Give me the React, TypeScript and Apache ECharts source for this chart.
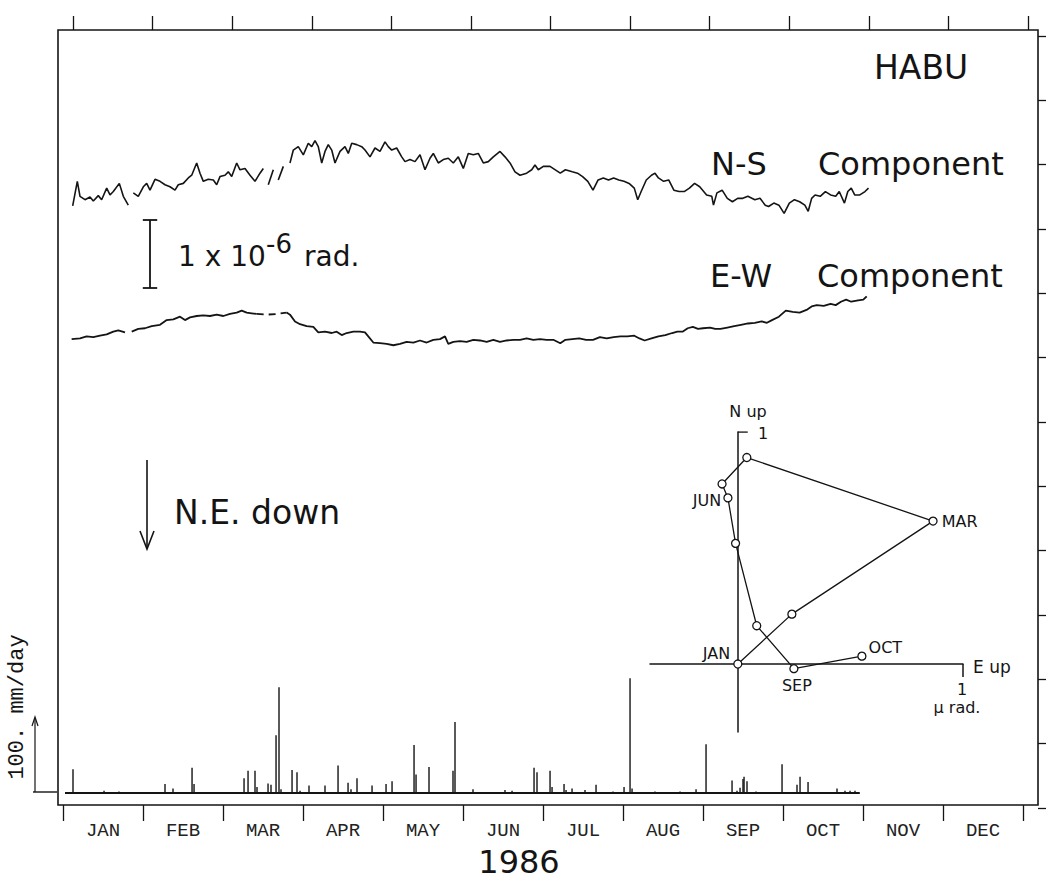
import React, { useEffect, useRef } from "react";
import * as echarts from "echarts";

// ---- categories ----
const months = ["JAN", "FEB", "MAR", "APR", "MAY", "JUN", "JUL", "AUG", "SEP", "OCT", "NOV", "DEC"];

// ---- N-S tilt component (x: month position, y: micro-radian, arbitrary offset) ----
const nsA = [[0.121,8.81],[0.179,9.17],[0.2125,8.95],[0.275,8.90],[0.3375,8.94],[0.379,8.88],[0.441,8.96],[0.483,8.90],[0.546,9.07],[0.5875,8.97],[0.629,9.02],[0.704,9.14],[0.754,8.95],[0.816,8.82]];
const nsB = [[0.879,9.00],[0.941,8.95],[1.004,9.09],[1.046,9.14],[1.0875,9.04],[1.15,9.20],[1.2125,9.17],[1.275,9.12],[1.3375,9.09],[1.40,9.04],[1.441,9.12],[1.504,9.14],[1.566,9.22],[1.609,9.26],[1.671,9.44],[1.7125,9.29],[1.754,9.17],[1.816,9.20],[1.879,9.19],[1.921,9.12],[1.9625,9.24],[2.025,9.26],[2.066,9.31],[2.109,9.24],[2.171,9.44],[2.2125,9.34],[2.275,9.36],[2.3375,9.26],[2.40,9.17],[2.4625,9.29],[2.504,9.36]];
const nsSlash1 = [[2.566,9.12],[2.629,9.34]];
const nsSlash2 = [[2.691,9.19],[2.754,9.39]];
const nsC = [[2.8375,9.44],[2.879,9.63],[2.941,9.68],[3.004,9.56],[3.066,9.73],[3.109,9.68],[3.15,9.77],[3.191,9.68],[3.234,9.44],[3.275,9.61],[3.316,9.71],[3.359,9.63],[3.40,9.44],[3.4625,9.61],[3.525,9.68],[3.566,9.58],[3.609,9.73],[3.671,9.71],[3.734,9.68],[3.775,9.63],[3.8375,9.53],[3.90,9.66],[3.9625,9.61],[4.025,9.75],[4.066,9.68],[4.109,9.63],[4.171,9.66],[4.234,9.53],[4.275,9.46],[4.3375,9.49],[4.40,9.46],[4.4625,9.56],[4.525,9.34],[4.5875,9.51],[4.629,9.58],[4.691,9.44],[4.754,9.49],[4.816,9.51],[4.879,9.44],[4.941,9.53],[5.004,9.36],[5.066,9.58],[5.129,9.56],[5.191,9.58],[5.254,9.44],[5.316,9.46],[5.379,9.53],[5.4625,9.61],[5.525,9.53],[5.5875,9.44],[5.65,9.31],[5.7125,9.26],[5.796,9.29],[5.859,9.34],[5.90,9.41],[5.941,9.34],[6.004,9.39],[6.0875,9.39],
  [6.216,9.29],[6.28,9.34],[6.366,9.31],[6.431,9.29],[6.495,9.24],[6.56,9.17],[6.625,9.04],[6.689,9.19],[6.754,9.22],[6.819,9.19],[6.883,9.22],[6.948,9.19],[7.0125,9.17],[7.076,9.14],[7.141,9.07],[7.184,8.90],[7.227,9.02],[7.291,9.19],[7.356,9.26],[7.40,9.29],[7.443,9.22],[7.508,9.17],[7.571,9.19],[7.636,9.04],[7.701,9.02],[7.765,9.02],[7.83,9.07],[7.895,9.14],[7.959,9.09],[8.045,8.97],[8.11,8.95],[8.131,8.82],[8.174,9.00],[8.239,9.04],[8.304,8.92],[8.368,8.87],[8.433,8.92],[8.498,8.92],[8.561,8.95],[8.648,8.90],[8.7125,8.92],[8.778,8.82],[8.82,8.80],[8.885,8.85],[8.949,8.82],[9.014,8.70],[9.079,8.85],[9.143,8.90],[9.208,8.87],[9.273,8.82],[9.315,8.73],[9.358,8.92],[9.401,8.97],[9.465,8.95],[9.53,9.02],[9.595,8.97],[9.659,8.95],[9.703,9.02],[9.768,8.85],[9.81,9.02],[9.853,9.07],[9.896,8.97],[9.96,8.97],[10.025,9.02],[10.069,9.07]];

// ---- E-W tilt component ----
const ewA = [[0.108,6.85],[0.2125,6.86],[0.296,6.89],[0.379,6.88],[0.4625,6.90],[0.546,6.92],[0.629,6.96],[0.691,6.98],[0.775,6.95]];
const ewB = [[0.859,6.96],[0.941,7.00],[1.025,7.01],[1.109,7.04],[1.2125,7.06],[1.296,7.13],[1.379,7.14],[1.4625,7.18],[1.525,7.13],[1.5875,7.17],[1.671,7.19],[1.754,7.20],[1.8375,7.19],[1.921,7.21],[2.004,7.19],[2.0875,7.22],[2.171,7.24],[2.234,7.27],[2.296,7.24],[2.359,7.23],[2.421,7.22]];
const ewDashed = [[2.421,7.22],[2.546,7.21],[2.671,7.22],[2.796,7.24]];
const ewC = [[2.796,7.24],[2.8375,7.21],[2.90,7.11],[2.9625,7.07],[3.046,7.04],[3.129,7.03],[3.191,6.95],[3.275,6.96],[3.359,6.94],[3.421,6.96],[3.484,6.91],[3.546,6.94],[3.629,6.96],[3.7125,6.96],[3.775,6.95],[3.816,6.89],[3.879,6.80],[3.9625,6.79],[4.046,6.78],[4.129,6.76],[4.2125,6.78],[4.296,6.81],[4.379,6.80],[4.4625,6.83],[4.546,6.80],[4.629,6.84],[4.7125,6.85],[4.775,6.89],[4.816,6.78],[4.879,6.81],[4.9625,6.82],[5.046,6.81],[5.129,6.84],[5.2125,6.83],[5.296,6.81],[5.379,6.84],[5.4625,6.81],[5.546,6.83],[5.629,6.84],[5.7125,6.84],[5.796,6.86],[5.879,6.84],[5.9625,6.85],[6.046,6.84],[6.129,6.84],
  [6.216,6.79],[6.28,6.84],[6.366,6.85],[6.453,6.86],[6.539,6.84],[6.625,6.84],[6.711,6.88],[6.796,6.86],[6.883,6.88],[6.969,6.89],[7.055,6.89],[7.141,6.90],[7.206,6.86],[7.27,6.83],[7.356,6.86],[7.443,6.89],[7.529,6.91],[7.615,6.94],[7.679,6.96],[7.744,6.96],[7.809,7.01],[7.873,7.03],[7.9375,7.00],[8.0,7.01],[8.089,7.02],[8.153,7.00],[8.218,7.00],[8.304,7.02],[8.39,7.04],[8.475,7.06],[8.561,7.08],[8.648,7.09],[8.734,7.11],[8.799,7.09],[8.8625,7.13],[8.949,7.18],[9.035,7.27],[9.121,7.25],[9.208,7.24],[9.294,7.28],[9.358,7.33],[9.4225,7.35],[9.509,7.34],[9.595,7.37],[9.659,7.35],[9.724,7.40],[9.789,7.43],[9.853,7.40],[9.939,7.42],[10.004,7.43],[10.046,7.48]];

// ---- scale bar: 1 x 10^-6 rad ----
const scaleBarX = 1.0875;
const scaleBarHalfWidth = 0.09;
const scaleBarFrom = 7.6;
const scaleBarTo = 8.6;

// ---- daily rainfall (x: month position, mm/day) ----
const rainX = [0.125,0.513,0.7,1.275,1.375,1.613,1.638,2.263,2.313,2.4,2.425,2.563,2.6,2.663,2.7,2.725,2.863,2.925,2.963,3.075,3.275,3.438,3.563,3.6,3.675,3.863,4.038,4.113,4.388,4.413,4.575,4.875,4.9,5.125,5.525,5.613,5.888,5.925,6.088,6.113,6.263,6.288,6.363,6.525,6.663,6.875,7.013,7.088,7.113,7.4,7.713,7.913,8.038,8.363,8.425,8.463,8.5,8.513,8.55,8.663,8.988,9.175,9.213,9.313,9.675,9.775,9.838,9.9];
const rainMm = [32,3,2,12,6,34,12,20,30,30,8,13,11,78,143,5,31,28,3,10,10,37,14,5,20,10,12,16,65,25,35,30,96,5,4,3,34,28,30,8,12,4,6,4,11,2,8,155,6,2,2,5,66,17,3,7,19,22,16,2,39,11,22,15,6,3,3,3];
const rainStart = 0.025;
const rainEnd = 9.96;

// ---- tilt vector (hodograph) inset: E up, N up in micro-radian ----
const hodoE = [0, 0.24, 0.867, 0.04, -0.07, -0.044, -0.01, 0.084, 0.249, 0.551];
const hodoN = [0, 0.215, 0.616, 0.89, 0.776, 0.716, 0.52, 0.165, -0.02, 0.034];
const hodoLabels = ["JAN", "", "MAR", "", "", "JUN", "", "", "SEP", "OCT"];

const INK = "#141414";

function buildOption(): any {
  const labelPos: Record<string, any> = {
    JAN: { position: "left", distance: 3, offset: [0, -11] },
    MAR: { position: "right", distance: 4, offset: [0, 0] },
    JUN: { position: "left", distance: 2, offset: [0, 3] },
    SEP: { position: "bottom", distance: 4, offset: [3, 0] },
    OCT: { position: "right", distance: 2, offset: [0, -9] },
  };
  const hodoData = hodoE.map((e, i) => {
    const name = hodoLabels[i];
    const item: any = { value: [e, hodoN[i]] };
    if (name) {
      item.label = {
        show: true,
        formatter: name,
        color: INK,
        fontSize: 16,
        fontFamily: "DejaVu Sans",
        ...labelPos[name],
      };
    }
    return item;
  });

  const tiltLine = (data: number[][], width = 1.6, type: any = "solid") => ({
    type: "line",
    xAxisIndex: 3,
    yAxisIndex: 2,
    data,
    symbol: "none",
    silent: true,
    lineStyle: { color: INK, width, type },
  });

  const txt = (text: string, x: number, y: number, size: number, extra: any = {}) => ({
    type: "text",
    x,
    y,
    silent: true,
    style: {
      text,
      fill: INK,
      fontSize: size,
      fontFamily: "DejaVu Sans",
      align: "left",
      verticalAlign: "middle",
      ...extra,
    },
  });
  const seg = (x1: number, y1: number, x2: number, y2: number, w = 1.6) => ({
    type: "line",
    silent: true,
    shape: { x1, y1, x2, y2 },
    style: { stroke: INK, lineWidth: w },
  });

  return {
    animation: false,
    backgroundColor: "#ffffff",
    grid: [
      { left: 58, top: 30, width: 980, height: 775, show: true, borderColor: INK, borderWidth: 1.6, backgroundColor: "transparent" },
      { left: 73, top: 30, width: 955, height: 775 },
      { left: 63, top: 29, width: 960, height: 776 },
      { left: 63, top: 571, width: 960, height: 222 },
      { left: 650, top: 432, width: 313, height: 300 },
      { left: 58, top: 36, width: 980, height: 772 },
    ],
    xAxis: [
      { gridIndex: 0, type: "value", show: false, min: 0, max: 1 },
      {
        gridIndex: 1, type: "value", position: "top", min: 0, max: 12, interval: 1,
        axisLine: { show: false, onZero: false }, axisLabel: { show: false }, splitLine: { show: false },
        axisTick: { show: true, length: 14, lineStyle: { color: INK, width: 1.3 } },
      },
      {
        gridIndex: 2, type: "category", position: "bottom", data: months, boundaryGap: true,
        axisLine: { show: false, onZero: false }, splitLine: { show: false },
        axisTick: { show: true, length: 16, alignWithLabel: false, lineStyle: { color: INK, width: 1.3 } },
        axisLabel: { color: "#222", fontSize: 19, fontFamily: "Liberation Mono", margin: 16 },
      },
      { gridIndex: 2, type: "value", position: "top", show: false, min: 0, max: 12 },
      { gridIndex: 3, type: "value", show: false, min: 0, max: 12 },
      {
        gridIndex: 4, type: "value", min: -0.39, max: 1.0,
        axisLine: { show: true, onZero: true, lineStyle: { color: INK, width: 1.5 } },
        axisTick: { show: false }, axisLabel: { show: false }, splitLine: { show: false },
      },
      { gridIndex: 5, type: "value", show: false, min: 0, max: 1 },
    ],
    yAxis: [
      { gridIndex: 0, type: "value", show: false, min: 0, max: 1 },
      { gridIndex: 1, type: "value", show: false, min: 0, max: 1 },
      { gridIndex: 2, type: "value", show: false, min: 0, max: 11.41 },
      { gridIndex: 3, type: "value", show: false, min: 0, max: 300 },
      {
        gridIndex: 4, type: "value", min: -0.293, max: 1.0,
        axisLine: { show: true, onZero: true, lineStyle: { color: INK, width: 1.5 } },
        axisTick: { show: false }, axisLabel: { show: false }, splitLine: { show: false },
      },
      {
        gridIndex: 5, type: "value", position: "right", min: 0, max: 12, interval: 1,
        axisLine: { show: false, onZero: false }, axisLabel: { show: false }, splitLine: { show: false },
        axisTick: { show: true, length: 8, lineStyle: { color: INK, width: 1.3 } },
      },
    ],
    series: [
      tiltLine(nsA),
      tiltLine(nsB),
      tiltLine(nsSlash1),
      tiltLine(nsSlash2),
      tiltLine(nsC),
      tiltLine(ewA, 1.8),
      tiltLine(ewB, 1.8),
      tiltLine(ewDashed, 1.8, [7, 5]),
      tiltLine(ewC, 1.8),
      {
        type: "line",
        xAxisIndex: 3,
        yAxisIndex: 2,
        data: [[scaleBarX, scaleBarFrom], [scaleBarX, scaleBarTo]],
        symbol: "none",
        silent: true,
        lineStyle: { color: INK, width: 1.8 },
        markLine: {
          silent: true,
          symbol: ["none", "none"],
          label: { show: false },
          lineStyle: { color: INK, width: 1.8, type: "solid" },
          data: [
            [{ coord: [scaleBarX - scaleBarHalfWidth, scaleBarFrom] }, { coord: [scaleBarX + scaleBarHalfWidth, scaleBarFrom] }],
            [{ coord: [scaleBarX - scaleBarHalfWidth, scaleBarTo] }, { coord: [scaleBarX + scaleBarHalfWidth, scaleBarTo] }],
          ],
        },
      },
      {
        type: "bar",
        xAxisIndex: 4,
        yAxisIndex: 3,
        data: rainX.map((x, i) => [x, rainMm[i]]),
        barWidth: 1.4,
        silent: true,
        itemStyle: { color: INK },
      },
      {
        type: "line",
        xAxisIndex: 4,
        yAxisIndex: 3,
        data: [[rainStart, 0], [rainEnd, 0]],
        symbol: "none",
        silent: true,
        lineStyle: { color: INK, width: 2.2 },
      },
      {
        type: "line",
        xAxisIndex: 5,
        yAxisIndex: 4,
        data: [[1, 0], [1, -0.056]],
        symbol: "none",
        silent: true,
        lineStyle: { color: INK, width: 1.5 },
      },
      {
        type: "line",
        xAxisIndex: 5,
        yAxisIndex: 4,
        data: [[0, 1], [0.044, 1]],
        symbol: "none",
        silent: true,
        lineStyle: { color: INK, width: 1.5 },
      },
      {
        type: "line",
        xAxisIndex: 5,
        yAxisIndex: 4,
        data: hodoData,
        symbol: "circle",
        symbolSize: 8,
        showAllSymbol: true,
        silent: true,
        z: 5,
        lineStyle: { color: INK, width: 1.3 },
        itemStyle: { color: "#ffffff", borderColor: INK, borderWidth: 1.3 },
      },
    ],
    graphic: [
      txt("HABU", 874, 67, 33),
      txt("N-S", 711, 164, 32),
      txt("Component", 818, 164, 32),
      txt("E-W", 710, 276, 32),
      txt("Component", 817, 276, 32),
      txt("1 x 10", 178, 256, 28),
      txt("-6", 266, 244, 26),
      txt("rad.", 304, 256, 28),
      txt("N.E. down", 174, 512, 33),
      seg(147, 460, 147, 548),
      {
        type: "polyline",
        silent: true,
        shape: { points: [[140, 531], [147, 549], [154, 531]] },
        style: { stroke: INK, lineWidth: 1.6, fill: "none" },
      },
      txt("1986", 519, 862, 32, { align: "center" }),
      {
        type: "text",
        x: 17,
        y: 707,
        rotation: Math.PI / 2,
        silent: true,
        style: {
          text: "100. mm/day",
          fill: INK,
          fontSize: 22,
          fontFamily: "Liberation Mono",
          align: "center",
          verticalAlign: "middle",
        },
      },
      seg(35, 792, 35, 718, 1.2),
      {
        type: "polyline",
        silent: true,
        shape: { points: [[32, 726], [35, 717], [38, 726]] },
        style: { stroke: INK, lineWidth: 1.2, fill: "none" },
      },
      seg(33, 792, 57, 792, 1.4),
      txt("N up", 748, 411, 16, { align: "center" }),
      txt("1", 758, 433, 16),
      txt("E up", 973, 667, 17),
      txt("1", 962, 689, 16, { align: "center" }),
      txt("\u00b5 rad.", 957, 707, 16, { align: "center" }),
    ],
  };
}

export default function App() {
  const ref = useRef<HTMLDivElement>(null);
  useEffect(() => {
    if (!ref.current) return;
    const chart = echarts.init(ref.current, null, { renderer: "svg" });
    chart.setOption(buildOption());
    return () => chart.dispose();
  }, []);
  return (
    <div
      ref={ref}
      style={{ position: "absolute", left: 0, top: 0, width: 1048, height: 881, background: "#ffffff" }}
    />
  );
}
